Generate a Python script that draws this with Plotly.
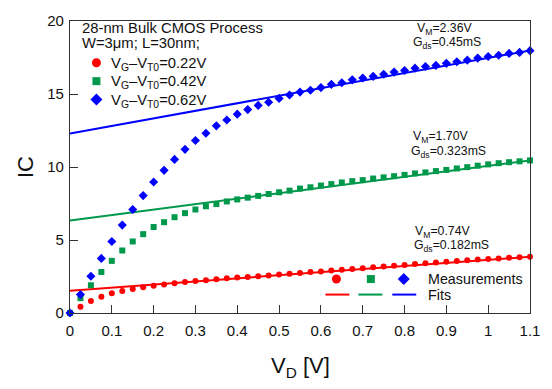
import plotly.graph_objects as go

# Drain voltage sweep (V)
vd = [0.0, 0.025, 0.05, 0.075, 0.1, 0.125, 0.15, 0.175, 0.2, 0.225, 0.25,
      0.275, 0.3, 0.325, 0.35, 0.375, 0.4, 0.425, 0.45, 0.475, 0.5, 0.525,
      0.55, 0.575, 0.6, 0.625, 0.65, 0.675, 0.7, 0.725, 0.75, 0.775, 0.8,
      0.825, 0.85, 0.875, 0.9, 0.925, 0.95, 0.975, 1.0, 1.025, 1.05, 1.075, 1.1]

# Measured IC for each overdrive V_G - V_T0
ic_022 = [0.0, 0.42, 0.82, 1.11, 1.35, 1.51, 1.64, 1.77, 1.86, 1.95, 2.04,
          2.12, 2.19, 2.25, 2.32, 2.38, 2.43, 2.47, 2.52, 2.57, 2.63, 2.69,
          2.74, 2.80, 2.85, 2.91, 2.96, 3.02, 3.07, 3.13, 3.18, 3.24, 3.29,
          3.35, 3.41, 3.46, 3.51, 3.56, 3.61, 3.66, 3.70, 3.74, 3.78, 3.82, 3.85]
ic_042 = [0.0, 1.02, 1.90, 2.81, 3.57, 4.28, 4.90, 5.40, 5.89, 6.22, 6.56,
          6.84, 7.09, 7.31, 7.46, 7.64, 7.78, 7.90, 8.02, 8.15, 8.27, 8.38,
          8.52, 8.61, 8.73, 8.83, 8.94, 9.03, 9.10, 9.21, 9.29, 9.37, 9.46,
          9.56, 9.63, 9.72, 9.80, 9.90, 9.99, 10.09, 10.18, 10.26, 10.33, 10.39, 10.45]
ic_062 = [0.0, 1.26, 2.52, 3.74, 4.90, 6.02, 7.09, 8.04, 8.97, 9.77, 10.52,
          11.21, 11.81, 12.31, 12.82, 13.22, 13.62, 13.93, 14.22, 14.44, 14.70, 14.93,
          15.13, 15.26, 15.44, 15.66, 15.77, 15.97, 16.10, 16.21, 16.35, 16.50, 16.61,
          16.77, 16.88, 16.96, 17.10, 17.21, 17.32, 17.46, 17.57, 17.65, 17.78, 17.85, 17.97]

# Linear saturation fits: value at V_D = 0 and at V_D = 1.1
fit_x = [0.0, 1.1]
fit_022 = [1.53, 3.85]
fit_042 = [6.33, 10.45]
fit_062 = [12.30, 17.98]

series_labels = ["V<sub>G</sub>\u2013V<sub>T0</sub>=0.22V",
                 "V<sub>G</sub>\u2013V<sub>T0</sub>=0.42V",
                 "V<sub>G</sub>\u2013V<sub>T0</sub>=0.62V"]
vm_labels = ["V<sub>M</sub>=0.74V", "V<sub>M</sub>=1.70V", "V<sub>M</sub>=2.36V"]
gds_labels = ["G<sub>ds</sub>=0.182mS", "G<sub>ds</sub>=0.323mS", "G<sub>ds</sub>=0.45mS"]

x_ticks = [0, 0.1, 0.2, 0.3, 0.4, 0.5, 0.6, 0.7, 0.8, 0.9, 1.0, 1.1]
x_ticktext = ["0", "0.1", "0.2", "0.3", "0.4", "0.5", "0.6", "0.7", "0.8", "0.9", "1", "1.1"]
y_ticks = [0, 5, 10, 15, 20]

RED, GREEN, BLUE = "#ff0000", "#00994c", "#0000ff"
FONT = "Liberation Sans, Arial, Helvetica, sans-serif"

W, H = 552, 389
L, R, T, B = 70, 21, 12, 76
PW, PH = W - L - R, H - T - B


def px(x):
    return (x - L) / PW


def py(y):
    return (T + PH - y) / PH


fig = go.Figure()

for ys, col in [(fit_022, RED), (fit_042, GREEN), (fit_062, BLUE)]:
    fig.add_trace(go.Scatter(x=fit_x, y=ys, mode="lines",
                             line=dict(color=col, width=2),
                             showlegend=False, hoverinfo="skip"))

for ys, col, sym, sz in [(ic_022, RED, "circle", 6),
                         (ic_042, GREEN, "square", 6),
                         (ic_062, BLUE, "diamond", 7)]:
    fig.add_trace(go.Scatter(x=vd, y=ys, mode="markers", cliponaxis=False,
                             marker=dict(color=col, symbol=sym, size=sz,
                                         line=dict(width=0)),
                             showlegend=False))

shapes = []
annotations = []


def glyph(kind, cx, cy, size, color):
    h = size / 2
    if kind == "circle":
        shapes.append(dict(type="circle", xref="paper", yref="paper",
                           xsizemode="pixel", ysizemode="pixel",
                           xanchor=px(cx), yanchor=py(cy),
                           x0=-h, x1=h, y0=-h, y1=h,
                           fillcolor=color, line=dict(width=0)))
    elif kind == "square":
        shapes.append(dict(type="rect", xref="paper", yref="paper",
                           xsizemode="pixel", ysizemode="pixel",
                           xanchor=px(cx), yanchor=py(cy),
                           x0=-h, x1=h, y0=-h, y1=h,
                           fillcolor=color, line=dict(width=0)))
    elif kind == "diamond":
        shapes.append(dict(type="path", xref="paper", yref="paper",
                           xsizemode="pixel", ysizemode="pixel",
                           xanchor=px(cx), yanchor=py(cy),
                           path=f"M{-h},0 L0,{h} L{h},0 L0,{-h} Z",
                           fillcolor=color, line=dict(width=0)))
    elif kind == "line":
        shapes.append(dict(type="line", xref="paper", yref="paper",
                           x0=px(cx - h), x1=px(cx + h), y0=py(cy), y1=py(cy),
                           line=dict(color=color, width=2)))


def text(s, x, y, size, xanchor="left"):
    annotations.append(dict(text=s, x=px(x), y=py(y), xref="paper", yref="paper",
                            xanchor=xanchor, yanchor="middle", showarrow=False,
                            font=dict(size=size, color="#111", family=FONT)))


# Upper-left key
text("28-nm Bulk CMOS Process", 80, 19, 14.8)
text("W=3\u03bcm; L=30nm;", 80, 35, 14.8)
for (kind, col, sz), lab, yy in zip([("circle", RED, 9), ("square", GREEN, 8), ("diamond", BLUE, 12)],
                                    series_labels, [55, 74, 93]):
    glyph(kind, 96.5, yy, sz, col)
    text(lab, 109, yy + 1, 14.8)

# Lower-right key
glyph("circle", 337, 278, 9, RED)
glyph("square", 371.5, 278, 8, GREEN)
glyph("diamond", 404.5, 278, 12, BLUE)
text("Measurements", 427, 278, 14.3)
glyph("line", 338, 294, 24, RED)
glyph("line", 371, 294, 24, GREEN)
glyph("line", 405, 294, 24, BLUE)
text("Fits", 427, 294, 14.3)

# Fit parameter labels
for vm, gds, (vx, vy), (gx, gy) in zip(vm_labels, gds_labels,
                                       [(443, 229), (441.5, 132), (445, 20)],
                                       [(452, 244), (449.5, 147), (448, 35)]):
    text(vm, vx, vy, 12.3, "center")
    text(gds, gx, gy, 12.3, "center")

# Axis titles
annotations.append(dict(text="IC", x=px(25), y=py(162.5), xref="paper", yref="paper",
                        textangle=-90, showarrow=False, xanchor="center", yanchor="middle",
                        font=dict(size=22, color="#111", family=FONT)))
annotations.append(dict(text="V<sub>D</sub> [V]", x=px(300.5), y=py(369), xref="paper",
                        yref="paper", showarrow=False, xanchor="center", yanchor="middle",
                        font=dict(size=22, color="#111", family=FONT)))

axis_common = dict(showline=True, mirror=True, linecolor="#333", linewidth=1.3,
                   ticks="inside", ticklen=8, tickwidth=1.3, tickcolor="#333",
                   showgrid=False, zeroline=False,
                   tickfont=dict(size=15, color="#111", family=FONT))

fig.update_layout(
    width=W, height=H,
    margin=dict(l=L, r=R, t=T, b=B, pad=0),
    paper_bgcolor="white", plot_bgcolor="white",
    showlegend=False,
    xaxis=dict(range=[0, 1.1], tickvals=x_ticks, ticktext=x_ticktext,
               ticklabelstandoff=4, **axis_common),
    yaxis=dict(range=[0, 20], tickvals=y_ticks, ticklabelstandoff=2, **axis_common),
    shapes=shapes,
    annotations=annotations,
)

fig.write_html("out.html")
